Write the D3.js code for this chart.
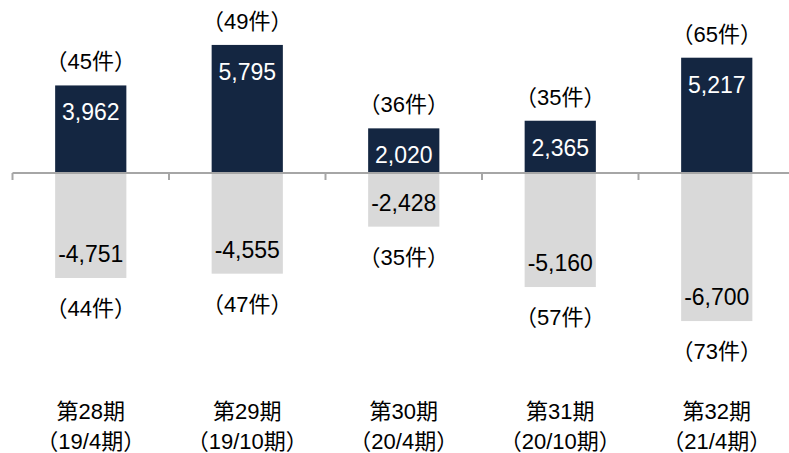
<!DOCTYPE html>
<html>
<head>
<meta charset="utf-8">
<script src="https://cdn.jsdelivr.net/npm/d3@7"></script>
<style>
  html, body { margin: 0; padding: 0; background: #ffffff; }
  svg { display: block; }
</style>
</head>
<body>
<svg id="chart" width="789" height="453"></svg>
<script>
// Period labels (two lines each)
const periods = ["第28期", "第29期", "第30期", "第31期", "第32期"];
const periodSub = ["（19/4期）", "（19/10期）", "（20/4期）", "（20/10期）", "（21/4期）"];

// Gains (positive) and losses (negative) per period, with deal counts
const gains = [3962, 5795, 2020, 2365, 5217];
const gainCounts = [45, 49, 36, 35, 65];
const losses = [-4751, -4555, -2428, -5160, -6700];
const lossCounts = [44, 47, 35, 57, 73];

const W = 789, H = 453;
const svg = d3.select("#chart");

const x = d3.scaleBand().domain(periods).range([12.5, 795]).paddingInner(0).paddingOuter(0);
const barW = x.bandwidth() * 0.455;
const y = d3.scaleLinear().domain([-7000, 6000]).range([327.7, 40.4]);

// Thousands separator with a plain hyphen for negatives
const fmt = v => d3.format(",")(v).replace("\u2212", "-");
const latin = "'Liberation Sans', Arial, sans-serif";
const jp = "'Liberation Sans', Arial, 'Noto Sans CJK JP', sans-serif";

const rows = periods.map((p, i) => ({
  p, gain: gains[i], gc: gainCounts[i], loss: losses[i], lc: lossCounts[i]
}));

// Loss bars (light grey, below zero)
svg.append("g").selectAll("rect").data(rows).join("rect")
  .attr("x", d => x(d.p) + (x.bandwidth() - barW) / 2)
  .attr("width", barW)
  .attr("y", y(0))
  .attr("height", d => y(d.loss) - y(0))
  .attr("fill", "#d9d9d9");

// Gain bars (navy, above zero)
svg.append("g").selectAll("rect").data(rows).join("rect")
  .attr("x", d => x(d.p) + (x.bandwidth() - barW) / 2)
  .attr("width", barW)
  .attr("y", d => y(d.gain))
  .attr("height", d => y(0) - y(d.gain))
  .attr("fill", "#142641");

// Zero axis with category boundary ticks
const axisG = svg.append("g").attr("transform", `translate(0,${y(0)})`);
const [r0, r1] = x.range();
axisG.append("line")
  .attr("x1", r0).attr("x2", r1).attr("y1", 0).attr("y2", 0)
  .attr("stroke", "#a6a6a6").attr("stroke-width", 2);
const bounds = periods.map(p => x(p)).concat([r1]);
axisG.selectAll("line.tick").data(bounds).join("line")
  .attr("class", "tick")
  .attr("x1", d => d).attr("x2", d => d)
  .attr("y1", 0).attr("y2", 7)
  .attr("stroke", "#a6a6a6").attr("stroke-width", 2);

const cx = d => x(d.p) + x.bandwidth() / 2;

// Value labels inside bars
svg.append("g").selectAll("text").data(rows).join("text")
  .attr("x", cx).attr("y", d => y(d.gain) + 35)
  .attr("text-anchor", "middle")
  .attr("font-family", latin).attr("font-size", 23)
  .attr("fill", "#ffffff")
  .text(d => fmt(d.gain));

svg.append("g").selectAll("text").data(rows).join("text")
  .attr("x", cx).attr("y", d => y(d.loss) - 16)
  .attr("text-anchor", "middle")
  .attr("font-family", latin).attr("font-size", 23)
  .attr("fill", "#000000")
  .text(d => fmt(d.loss));

// Deal counts above gain bars and below loss bars
svg.append("g").selectAll("text").data(rows).join("text")
  .attr("x", cx).attr("y", d => y(d.gain) - 16)
  .attr("text-anchor", "middle")
  .attr("font-family", jp).attr("font-size", 22)
  .attr("fill", "#000000")
  .text(d => `（${d.gc}件）`);

svg.append("g").selectAll("text").data(rows).join("text")
  .attr("x", cx).attr("y", d => y(d.loss) + 38)
  .attr("text-anchor", "middle")
  .attr("font-family", jp).attr("font-size", 22)
  .attr("fill", "#000000")
  .text(d => `（${d.lc}件）`);

// Period labels
const lab = svg.append("g").selectAll("text").data(periods).join("text")
  .attr("x", d => x(d) + x.bandwidth() / 2)
  .attr("text-anchor", "middle")
  .attr("font-family", jp).attr("font-size", 22)
  .attr("fill", "#000000");
lab.append("tspan").attr("x", d => x(d) + x.bandwidth() / 2).attr("y", 419).text(d => d);
lab.append("tspan").attr("x", d => x(d) + x.bandwidth() / 2).attr("y", 449).text((d, i) => periodSub[i]);
</script>
</body>
</html>
